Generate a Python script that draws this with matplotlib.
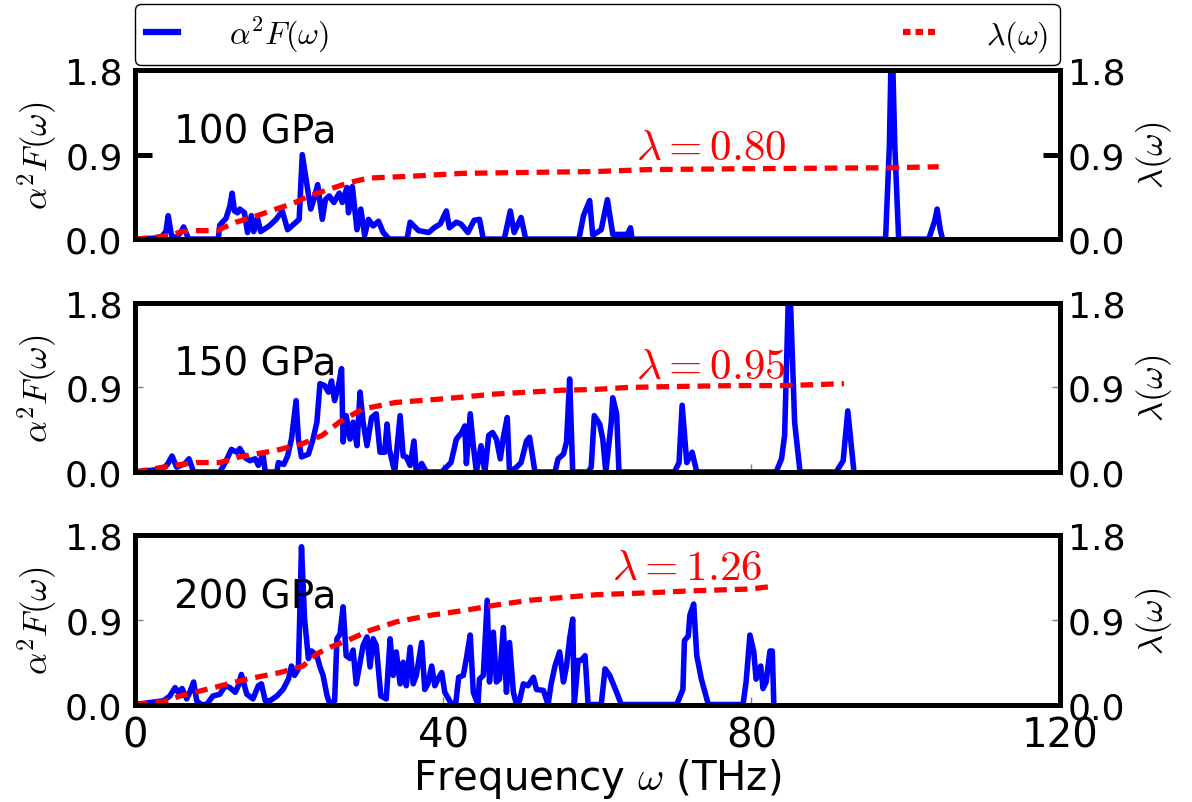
import numpy as np
import matplotlib
matplotlib.use("Agg")
import matplotlib.pyplot as plt
from matplotlib.lines import Line2D

plt.rcParams['font.family'] = ['DejaVu Sans']
plt.rcParams['mathtext.fontset'] = 'cm'
plt.rcParams['xtick.direction'] = 'in'
plt.rcParams['ytick.direction'] = 'in'

# --- data: (frequency THz, value) ---
# 100 GPa
f1 = [0, 2.5, 3.5, 4.0, 4.3, 4.7, 5.2, 6.0, 6.3, 6.8, 7.0, 10.8, 11.0, 11.8, 12.3, 12.6, 12.9, 13.3,
      13.6, 14.2, 14.6, 15.1, 15.4, 15.9, 16.3, 17.4, 18.3, 19.1, 19.8, 21.3, 21.7, 22.4, 22.8, 23.2,
      23.7, 24.3, 24.7, 25.2, 25.8, 26.5, 26.9, 27.5, 27.7, 28.2, 28.8, 29.3, 29.8, 30.3, 30.9, 31.6,
      32.2, 33.0, 35.3, 35.7, 36.8, 38.1, 38.8, 39.6, 40.4, 40.8, 41.7, 42.3, 43.2, 44.0, 44.7, 45.2,
      47.9, 48.1, 48.7, 49.2, 50.1, 50.7, 57.6, 58.2, 59.0, 59.4, 60.5, 61.3, 62.0, 63.9, 64.3, 64.5,
      97.4, 97.9, 98.2, 98.6, 99.1, 103.0, 103.8, 104.1, 104.5, 104.8]
a1 = [0, 0.01, 0.03, 0.08, 0.25, 0.05, 0.0, 0.08, 0.13, 0.03, 0, 0, 0.15, 0.22, 0.35, 0.49, 0.3, 0.28,
      0.32, 0.28, 0.07, 0.25, 0.08, 0.22, 0.08, 0.14, 0.21, 0.3, 0.1, 0.21, 0.9, 0.53, 0.32, 0.42,
      0.58, 0.21, 0.42, 0.46, 0.39, 0.49, 0.39, 0.55, 0.28, 0.56, 0.1, 0.32, 0.04, 0.21, 0.14, 0.19,
      0.07, 0, 0, 0.18, 0.09, 0.07, 0.12, 0.16, 0.3, 0.12, 0.18, 0.16, 0.07, 0.2, 0.21, 0,
      0, 0.07, 0.3, 0.07, 0.23, 0, 0, 0.25, 0.41, 0.04, 0.1, 0.42, 0.05, 0.05, 0.12, 0,
      0, 1.0, 2.3, 1.0, 0, 0, 0.2, 0.32, 0.1, 0]
lf1 = [0, 3, 5, 6, 8, 10.6, 13.1, 15.5, 18.3, 20.5, 22.6, 25.2, 27.7, 30.3, 35.9, 42.4, 51, 60,
       66.5, 80, 98, 104.3]
l1 = [0, 0.02, 0.05, 0.08, 0.09, 0.09, 0.18, 0.24, 0.32, 0.38, 0.46, 0.53, 0.6, 0.65, 0.67, 0.70,
      0.71, 0.72, 0.74, 0.75, 0.76, 0.77]

# 150 GPa
f2 = [0, 3.5, 4.2, 4.8, 5.4, 6.5, 7.0, 7.6, 11.0, 11.7, 12.5, 13.2, 13.6, 14.3, 14.9, 15.6, 16.0,
      16.6, 16.9, 18.4, 18.6, 19.3, 19.8, 20.3, 20.9, 21.2, 21.6, 22.5, 23.1, 23.6, 24.0, 24.6, 25.1,
      25.5, 25.9, 26.4, 26.8, 27.0, 27.4, 27.9, 28.3, 28.8, 29.2, 29.6, 30.1, 30.7, 31.3, 31.8, 32.4,
      32.7, 33.0, 33.7, 34.4, 34.8, 35.2, 35.7, 36.2, 36.5, 37.2, 37.8, 39.8, 41.0, 41.7, 42.4, 42.8,
      43.0, 43.5, 43.9, 44.3, 44.9, 45.4, 45.9, 46.4, 46.9, 47.4, 47.8, 48.3, 48.6, 49.5, 50.1, 50.8,
      51.2, 51.9, 54.5, 54.9, 55.6, 56.0, 56.4, 56.8, 58.8, 59.2, 59.6, 60.3, 60.7, 61.1, 61.8, 62.0,
      62.5, 62.8, 70.0, 70.6, 71.0, 71.6, 72.3, 72.9, 83.2, 83.9, 84.3, 84.9, 85.6, 86.3,
      91.0, 91.9, 92.5, 93.3]
a2 = [0, 0.03, 0.08, 0.17, 0.05, 0.09, 0.14, 0, 0, 0.1, 0.24, 0.21, 0.25, 0.15, 0.12, 0.14, 0.07,
      0.19, 0, 0, 0.1, 0.08, 0.17, 0.35, 0.76, 0.35, 0.16, 0.19, 0.35, 0.53, 0.94, 0.92, 0.85,
      0.97, 0.76, 0.92, 1.1, 0.32, 0.6, 0.35, 0.53, 0.28, 0.85, 0.53, 0.28, 0.58, 0.62, 0.21, 0.21,
      0.51, 0.24, 0, 0.6, 0.17, 0.16, 0.07, 0.33, 0, 0.09, 0, 0, 0.1, 0.35, 0.42, 0.49,
      0.09, 0.62, 0.28, 0, 0.28, 0, 0.39, 0.42, 0.35, 0.14, 0.37, 0.58, 0, 0.05, 0.1, 0.33,
      0.37, 0, 0, 0.14, 0.19, 0.32, 0.99, 0, 0, 0.05, 0.6, 0.51, 0.35, 0, 0.53, 0.79,
      0.62, 0, 0, 0.1, 0.71, 0.1, 0.21, 0, 0, 0.14, 0.39, 2.2, 0.53, 0,
      0, 0.12, 0.65, 0]
lf2 = [0, 5, 8, 11, 13.5, 18.3, 21.7, 24.3, 26.5, 29.5, 33.8, 40.2, 46.7, 55.3, 60, 63.9, 70, 78,
       84.5, 92.0]
l2 = [0, 0.07, 0.1, 0.1, 0.16, 0.23, 0.3, 0.39, 0.53, 0.67, 0.74, 0.78, 0.83, 0.87, 0.88, 0.9,
      0.91, 0.92, 0.92, 0.94]

# 200 GPa
f3 = [0, 3.7, 4.5, 5.2, 5.6, 6.1, 6.7, 7.1, 7.6, 8.0, 8.6, 9.3, 10.1, 11.0, 11.7, 12.3, 13.0, 13.4,
      13.8, 14.5, 15.3, 16.0, 16.4, 16.9, 17.5, 18.4, 19.2, 19.9, 20.3, 20.7, 21.2, 21.6, 22.0, 22.5,
      22.9, 23.6, 24.0, 24.4, 24.9, 25.3, 25.9, 26.2, 26.6, 27.0, 27.4, 27.9, 28.3, 28.7, 29.2, 29.6,
      30.1, 30.5, 30.9, 31.3, 31.9, 32.6, 33.1, 33.5, 33.9, 34.4, 34.8, 35.2, 35.7, 36.1, 36.5, 37.2,
      37.6, 38.0, 38.5, 38.9, 39.3, 39.8, 40.2, 41.1, 41.6, 42.0, 42.6, 43.0, 43.5, 43.9, 44.5, 44.7,
      45.2, 45.7, 46.0, 46.5, 46.9, 47.3, 47.8, 48.2, 48.6, 49.1, 49.5, 49.9, 50.4, 51.0, 51.7, 52.1,
      53.0, 53.6, 54.0, 54.5, 55.1, 55.6, 56.0, 56.4, 56.8, 57.0, 57.5, 57.9, 58.4, 58.8, 60.5, 61.0,
      61.6, 62.5, 63.1, 70.3, 71.1, 71.3, 71.8, 72.0, 72.5, 72.9, 73.5, 74.1, 74.4,
      78.9, 79.3, 79.8, 80.3, 80.6, 81.2, 81.5, 81.9, 82.4, 82.7, 82.9]
a3 = [0, 0.04, 0.09, 0.18, 0.13, 0.17, 0.06, 0.13, 0.24, 0.04, 0, 0, 0.09, 0.11, 0.2, 0.18, 0.13, 0.2,
      0.32, 0.11, 0.06, 0.2, 0.22, 0.04, 0.04, 0.09, 0.16, 0.27, 0.41, 0.31, 0.38, 1.68, 0.91, 0.49,
      0.57, 0.52, 0.4, 0.31, 0.1, 0, 0.04, 0.7, 0.75, 1.04, 0.52, 0.49, 0.58, 0.22, 0.45, 0.63,
      0.72, 0.4, 0.7, 0.63, 0.09, 0.06, 0.7, 0.31, 0.56, 0.22, 0.45, 0.2, 0.61, 0.22, 0.31, 0.66,
      0.16, 0.22, 0.41, 0.2, 0.27, 0.34, 0.13, 0, 0, 0.29, 0.31, 0.49, 0.74, 0.13, 0, 0.27,
      0.31, 1.11, 0.24, 0.77, 0.24, 0.27, 0.82, 0.13, 0.66, 0.13, 0, 0.04, 0.22, 0.2, 0.29, 0.16,
      0.15, 0, 0.22, 0.41, 0.56, 0.24, 0.41, 0.7, 0.91, 0, 0.47, 0.47, 0.52, 0, 0, 0.38,
      0.31, 0.13, 0, 0, 0.16, 0.68, 0.73, 0.95, 1.07, 0.52, 0.27, 0.09, 0,
      0, 0.24, 0.74, 0.56, 0.27, 0.41, 0.17, 0.24, 0.57, 0.57, 0]
lf3 = [0, 3.7, 5.8, 10.2, 14.5, 18.8, 21.8, 23.6, 25.3, 27.5, 30.5, 33.9, 38.3, 42.6, 46.9, 51.2,
       55.5, 60, 66.8, 72, 79.8, 83.0]
l3 = [0, 0.03, 0.09, 0.18, 0.27, 0.34, 0.41, 0.54, 0.61, 0.68, 0.79, 0.88, 0.95, 1.0, 1.06, 1.11,
      1.14, 1.17, 1.19, 1.21, 1.23, 1.26]

pressures = ['100 GPa', '150 GPa', '200 GPa']
lam_labels = [r'$\lambda=0.80$', r'$\lambda=0.95$', r'$\lambda=1.26$']
lam_pos = [(74.8, 0.98), (74.8, 1.13), (71.7, 1.47)]
panels = [(f1, a1, lf1, l1), (f2, a2, lf2, l2), (f3, a3, lf3, l3)]

dash = (0, (2.4, 1.5))

fig = plt.figure(figsize=(11.92, 8.03), dpi=100)
left, width = 0.1133, 0.7757
bottoms = [0.701, 0.411, 0.1214]
height = 0.2105

axes = []
for i, (f, a, lf, l) in enumerate(panels):
    ax = fig.add_axes([left, bottoms[i], width, height])
    ax2 = ax.twinx()
    ax.plot(f, a, color='blue', lw=4, zorder=2)
    ax2.plot(lf, l, color='red', lw=3.8, linestyle=dash)
    for a_ in (ax, ax2):
        a_.set_xlim(0, 120)
        a_.set_ylim(0, 1.8)
        a_.set_yticks([0.0, 0.9, 1.8])
        a_.set_yticklabels(['0.0', '0.9', '1.8'])
        for s in a_.spines.values():
            s.set_linewidth(3.6)
    ax.set_xticks([0, 40, 80, 120])
    ax.tick_params(axis='x', labelsize=29, length=6, width=1, color='0.5', pad=8)
    ax.tick_params(axis='y', labelsize=26, length=6, width=1, color='0.5', pad=9)
    ax2.tick_params(axis='y', labelsize=26, length=6, width=1, color='0.5', pad=6)
    if i == 0:
        ax.tick_params(axis='x', length=0)
        ax.tick_params(axis='y', width=3.6, length=12, color='black')
        ax2.tick_params(axis='y', width=3.6, length=12, color='black')
    ax.set_ylabel(r'$\alpha^2F(\omega)$', fontsize=25, labelpad=4)
    ax2.set_ylabel(r'$\lambda(\omega)$', fontsize=25, labelpad=6)
    ax.text(5, 1.15, pressures[i], fontsize=28, va='center', ha='left')
    ax2.text(lam_pos[i][0], lam_pos[i][1], lam_labels[i], color='red', fontsize=31,
             ha='center', va='center')
    if i < 2:
        ax.set_xticklabels([])
    axes.append(ax)

axes[-1].set_xlabel(r'Frequency $\omega$ (THz)', fontsize=29, labelpad=0)

handles = [Line2D([], [], color='blue', lw=4.5),
           Line2D([], [], color='red', lw=4.5, linestyle=(0, (1.2, 0.8)))]
leg = axes[0].legend(handles, [r'$\alpha^2F(\omega)$', r'$\lambda(\omega)$'],
                     loc='lower left', bbox_to_anchor=(0, 1.03, 1, 0.3), mode='expand',
                     ncol=2, borderaxespad=0, fontsize=23, handlelength=1.0,
                     handletextpad=1.6, borderpad=0.35, fancybox=True, framealpha=1)
leg.get_frame().set_edgecolor('black')
leg.get_frame().set_linewidth(1.0)

fig.savefig('out.png', dpi=100)
